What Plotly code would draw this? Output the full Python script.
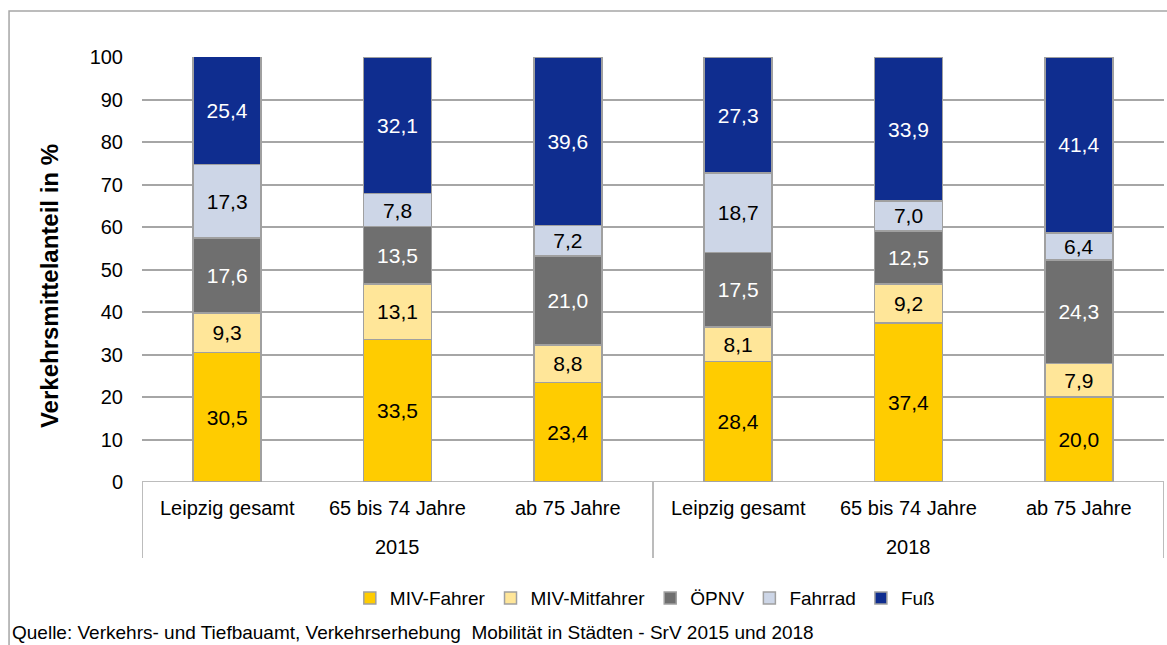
import plotly.graph_objects as go

categories = ["Leipzig gesamt", "65 bis 74 Jahre", "ab 75 Jahre",
              "Leipzig gesamt", "65 bis 74 Jahre", "ab 75 Jahre"]
years = ["2015", "2018"]
series_names = ["MIV-Fahrer", "MIV-Mitfahrer", "ÖPNV", "Fahrrad", "Fuß"]

miv_fahrer = [30.5, 33.5, 23.4, 28.4, 37.4, 20.0]
miv_mitfahrer = [9.3, 13.1, 8.8, 8.1, 9.2, 7.9]
oepnv = [17.6, 13.5, 21.0, 17.5, 12.5, 24.3]
fahrrad = [17.3, 7.8, 7.2, 18.7, 7.0, 6.4]
fuss = [25.4, 32.1, 39.6, 27.3, 33.9, 41.4]

y_ticks = [0, 10, 20, 30, 40, 50, 60, 70, 80, 90, 100]

series_values = [miv_fahrer, miv_mitfahrer, oepnv, fahrrad, fuss]
colors = ["#FFCC00", "#FFE699", "#6F6F6F", "#CDD6E7", "#0F2D8F"]
text_colors = ["#000000", "#000000", "#FFFFFF", "#000000", "#FFFFFF"]

FONT = "Liberation Sans, Arial, sans-serif"
GRID = "#A6A6A6"

x_pos = list(range(len(categories)))

fig = go.Figure()
for name, vals, col, tcol in zip(series_names, series_values, colors, text_colors):
    fig.add_trace(go.Bar(
        x=x_pos, y=vals, name=name, width=0.4,
        marker=dict(color=col, line=dict(color="#A0A0A0", width=1.5)),
        texttemplate="%{y:.1f}", textposition="inside",
        insidetextanchor="middle", textangle=0, constraintext="none",
        textfont=dict(family=FONT, size=21, color=tcol),
        hoverinfo="skip",
    ))

annotations = []
# category labels
for i, c in enumerate(categories):
    annotations.append(dict(x=i, y=-0.061, xref="x", yref="paper", text=c,
                            showarrow=False, font=dict(family=FONT, size=20, color="#000"),
                            xanchor="center", yanchor="middle"))
# year labels
for j, yr in enumerate(years):
    annotations.append(dict(x=1 + 3 * j, y=-0.153, xref="x", yref="paper", text=yr,
                            showarrow=False, font=dict(family=FONT, size=20, color="#000"),
                            xanchor="center", yanchor="middle"))
# y-axis title
annotations.append(dict(x=-0.091, y=0.461, xref="paper", yref="paper",
                        text="<b>Verkehrsmittelanteil in %</b>", textangle=-90,
                        showarrow=False, font=dict(family=FONT, size=24, color="#000"),
                        xanchor="center", yanchor="middle"))
# source
annotations.append(dict(x=-0.1295, y=-0.353, xref="paper", yref="paper",
                        text="Quelle: Verkehrs- und Tiefbauamt, Verkehrserhebung  Mobilität in Städten - SrV 2015 und 2018",
                        showarrow=False, font=dict(family=FONT, size=19, color="#000"),
                        xanchor="left", yanchor="middle"))

shapes = []
# category box separators
for xv in [-0.5, 2.5, 5.5]:
    shapes.append(dict(type="line", xref="x", yref="paper", x0=xv, x1=xv, y0=0, y1=-0.179,
                       line=dict(color=GRID, width=1.5)))
# baseline
shapes.append(dict(type="line", xref="paper", yref="y", x0=0, x1=1, y0=0, y1=0,
                   line=dict(color=GRID, width=1.5)))
# outer frame
shapes.append(dict(type="rect", xref="paper", yref="paper", x0=-0.1301, x1=1.05, y0=-0.6, y1=1.108,
                   line=dict(color="#A6A6A6", width=1.5), fillcolor="rgba(0,0,0,0)", layer="below"))

fig.update_layout(
    barmode="stack",
    separators=",.",
    width=1167, height=645,
    margin=dict(l=142, r=3, t=57, b=163),
    paper_bgcolor="white", plot_bgcolor="white",
    font=dict(family=FONT, size=20, color="#000"),
    xaxis=dict(range=[-0.5, 5.5], showticklabels=False, showgrid=False, zeroline=False,
               showline=False, ticks="", fixedrange=True),
    yaxis=dict(range=[0, 100], tickvals=y_ticks, showgrid=True, gridcolor=GRID, gridwidth=1.5,
               zeroline=False, showline=False, ticks="", ticklabelstandoff=18,
               tickfont=dict(family=FONT, size=20, color="#000")),
    legend=dict(orientation="h", x=0.492, xanchor="center", y=-0.273, yanchor="middle",
                font=dict(family=FONT, size=19, color="#000"), traceorder="normal",
                itemwidth=30, bgcolor="rgba(0,0,0,0)"),
    uniformtext=dict(minsize=20, mode="show"),
    annotations=annotations,
    shapes=shapes,
    showlegend=True,
)

fig.write_html("out.html", config={"displayModeBar": False},
               post_script="document.body.style.margin='0';document.body.style.overflow='hidden';")
